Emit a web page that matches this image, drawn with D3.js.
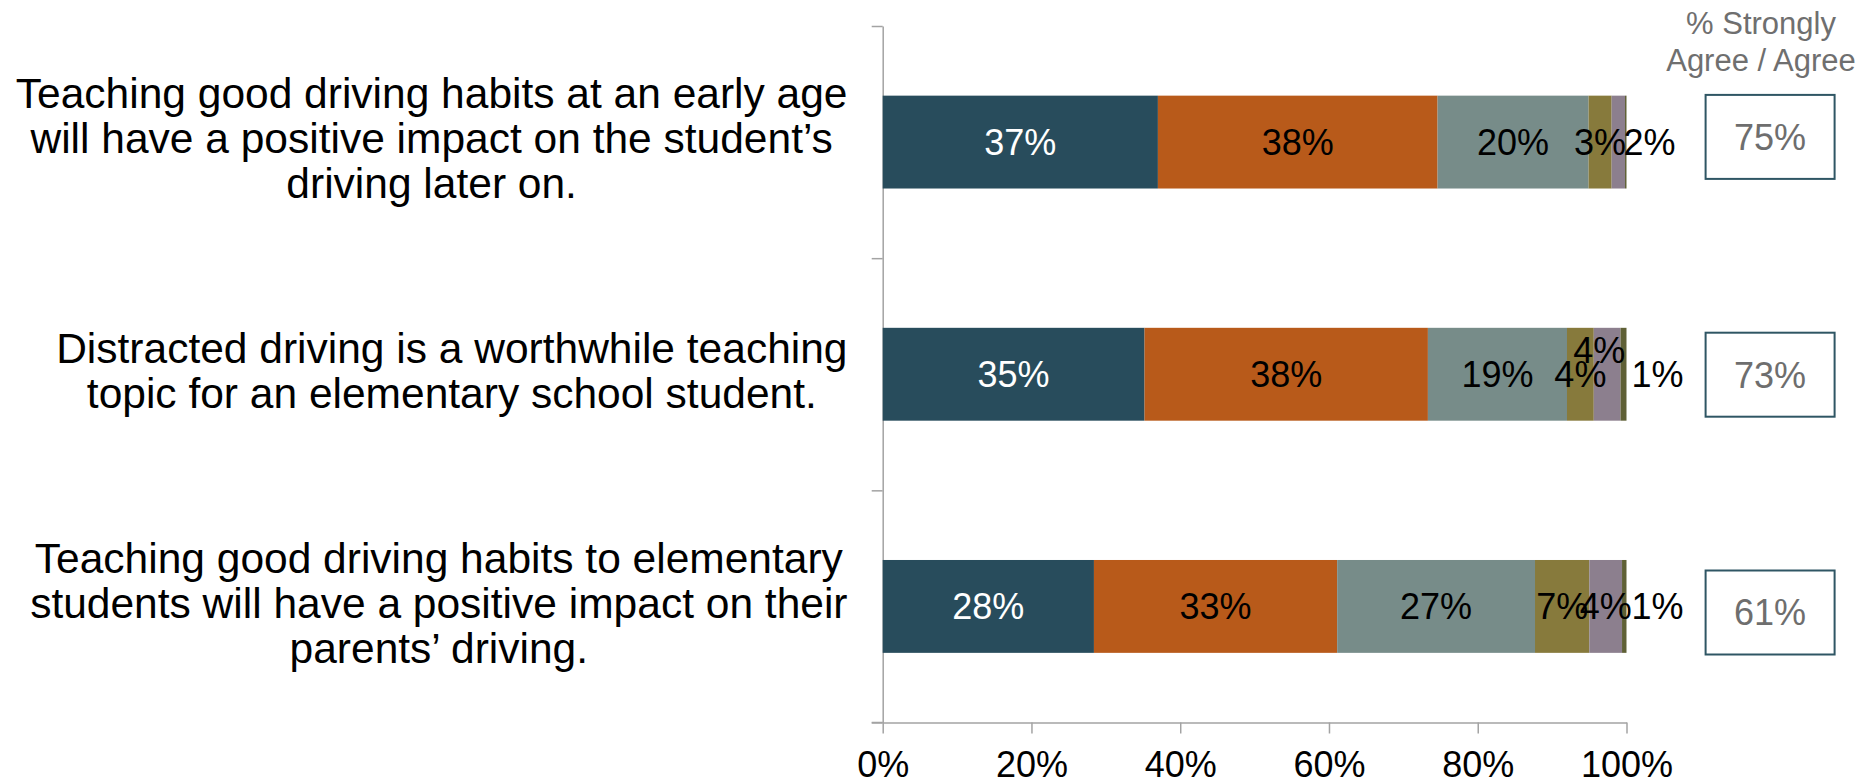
<!DOCTYPE html>
<html>
<head>
<meta charset="utf-8">
<script src="https://cdn.jsdelivr.net/npm/d3@7"></script>
<style>
  html, body { margin: 0; padding: 0; background: #ffffff; }
  svg { display: block; font-family: "Liberation Sans", Arial, sans-serif; }
</style>
</head>
<body>
<svg id="chart" width="1866" height="784"></svg>
<script>
// ---------------- DATA ----------------
const categories = [
  "Teaching good driving habits at an early age\nwill have a positive impact on the student\u2019s\ndriving later on.",
  "Distracted driving is a worthwhile teaching\ntopic for an elementary school student.",
  "Teaching good driving habits to elementary\nstudents will have a positive impact on their\nparents\u2019 driving."
];
const seriesNames = ["Strongly agree", "Agree", "Neutral", "Disagree", "Strongly disagree", "Don't know"];
const stronglyAgree    = [37.0, 35.2, 28.4];
const agreeVals        = [37.6, 38.1, 32.7];
const neutralVals      = [20.3, 18.7, 26.6];
const disagreeVals     = [3.1, 3.6, 7.3];
const stronglyDisagree = [1.8, 3.6, 4.4];
const dontKnow         = [0.2, 0.8, 0.6];
const agreeTotals      = ["75%", "73%", "61%"];
const xTickValues      = [0, 20, 40, 60, 80, 100];
const xTickLabels      = ["0%", "20%", "40%", "60%", "80%", "100%"];
const headerLines      = ["% Strongly", "Agree / Agree"];

// ---------------- STYLE ----------------
const colors = ["#284C5C", "#B85A1A", "#778C89", "#877A3C", "#8C7F8E", "#5F6036"];
const labelColors = ["#ffffff", "#000000", "#000000", "#000000", "#000000", "#000000"];
const axisColor = "#A3A3A3";
const FONT_CAT = 42.5, FONT_LBL = 36, FONT_TICK = 36, FONT_HEAD = 31, FONT_BOX = 36;
// per-label placement tweaks (row-series): outside = placed right of bar end
const labelTweak = {
  "0-4": { outside: true, dx: -3 },
  "1-4": { dx: -8, dy: -24 },
  "1-5": { outside: true, dx: 5 },
  "2-5": { outside: true, dx: 5 }
};

const svg = d3.select("#chart");

const plotTop = 26, plotBottom = 722.5;
const x = d3.scaleLinear().domain([0, 100]).range([882.7, 1626.5]);
const y = d3.scaleBand().domain(categories).range([plotTop, plotBottom]).paddingInner(0.6).paddingOuter(0.3);
const yBoundary = d3.scaleLinear().domain([0, categories.length]).range([plotTop, plotBottom]);
const boxY = d3.scaleBand().domain(categories).range([18, 731.4]);

const seriesArrays = [stronglyAgree, agreeVals, neutralVals, disagreeVals, stronglyDisagree, dontKnow];
const table = categories.map((c, i) => {
  const row = { category: c };
  seriesNames.forEach((s, k) => row[s] = seriesArrays[k][i]);
  return row;
});
const stack = d3.stack().keys(seriesNames)(table);

// ---------------- AXES ----------------
const leftAxis = d3.axisLeft(yBoundary).tickValues(d3.range(0, categories.length + 1))
  .tickSize(11).tickFormat("").tickSizeOuter(0);
const gl = svg.append("g").attr("transform", `translate(${x(0)},0)`).call(leftAxis);
gl.select(".domain").attr("stroke", axisColor).attr("stroke-width", 1.5);
gl.selectAll(".tick line").attr("stroke", axisColor).attr("stroke-width", 1.5);

const bottomAxis = d3.axisBottom(x).tickValues(xTickValues)
  .tickFormat((d, i) => xTickLabels[i]).tickSize(11).tickSizeOuter(0).tickPadding(12);
const gb = svg.append("g").attr("transform", `translate(0,${plotBottom})`).call(bottomAxis);
gb.select(".domain").attr("stroke", axisColor).attr("stroke-width", 1.5);
gb.selectAll(".tick line").attr("stroke", axisColor).attr("stroke-width", 1.5);
gb.selectAll(".tick text").attr("fill", "#000").attr("font-size", FONT_TICK)
  .attr("font-family", "Liberation Sans, Arial, sans-serif").attr("dy", null).attr("y", 54.5);
// extend bottom axis line to the left tick
svg.append("line").attr("x1", x(0) - 11).attr("x2", x(0)).attr("y1", plotBottom).attr("y2", plotBottom)
  .attr("stroke", axisColor).attr("stroke-width", 1.5);

// ---------------- BARS ----------------
const layers = svg.append("g").selectAll("g").data(stack).join("g")
  .attr("fill", (d, k) => colors[k]);
layers.selectAll("rect").data(d => d).join("rect")
  .attr("x", d => x(d[0]))
  .attr("y", d => y(d.data.category))
  .attr("width", d => Math.max(0, x(d[1]) - x(d[0])))
  .attr("height", y.bandwidth());

// ---------------- BAR LABELS ----------------
const lblG = svg.append("g").attr("font-size", FONT_LBL);
stack.forEach((layer, k) => {
  layer.forEach((d, i) => {
    const v = d[1] - d[0];
    if (Math.round(v) < 1) return;
    const tw = labelTweak[i + "-" + k] || {};
    const cy = y(d.data.category) + y.bandwidth() / 2 + FONT_LBL * 0.358 + (tw.dy || 0);
    const t = lblG.append("text").attr("y", cy).attr("fill", labelColors[k]).text(Math.round(v) + "%");
    if (tw.outside) {
      t.attr("x", x(100) + (tw.dx || 0)).attr("text-anchor", "start");
    } else {
      t.attr("x", (x(d[0]) + x(d[1])) / 2 + (tw.dx || 0)).attr("text-anchor", "middle");
    }
  });
});

// ---------------- CATEGORY LABELS ----------------
const catRight = 847.5, lineH = 45;
const catG = svg.append("g").attr("font-size", FONT_CAT).attr("fill", "#000");
categories.forEach((c, i) => {
  const lines = c.split("\n");
  const widths = lines.map(l => {
    const t = catG.append("text").text(l);
    const w = t.node().getComputedTextLength();
    t.remove();
    return w;
  });
  const maxW = d3.max(widths);
  const cx = catRight - maxW / 2;
  const cyMid = y(c) + y.bandwidth() / 2 - 4;
  const n = lines.length;
  lines.forEach((l, j) => {
    catG.append("text")
      .attr("x", cx).attr("text-anchor", "middle")
      .attr("y", cyMid + (j - (n - 1) / 2) * lineH + FONT_CAT * 0.358)
      .text(l);
  });
});

// ---------------- HEADER ----------------
const headX = 1761;
svg.append("g").attr("font-size", FONT_HEAD).attr("fill", "#6F6F6F").attr("text-anchor", "middle")
  .selectAll("text").data(headerLines).join("text")
  .attr("x", headX).attr("y", (d, j) => 34 + j * 37).text(d => d);

// ---------------- TOTAL BOXES ----------------
const boxW = 129, boxH = 84, boxX = 1705.6;
const boxG = svg.append("g");
categories.forEach((c, i) => {
  const cy = boxY(c) + boxY.bandwidth() / 2;
  boxG.append("rect").attr("x", boxX).attr("y", cy - boxH / 2).attr("width", boxW).attr("height", boxH)
    .attr("fill", "#fff").attr("stroke", "#2F5664").attr("stroke-width", 2);
  boxG.append("text").attr("x", boxX + boxW / 2).attr("y", cy + FONT_BOX * 0.358)
    .attr("text-anchor", "middle").attr("font-size", FONT_BOX).attr("fill", "#6E6E6E")
    .text(agreeTotals[i]);
});
</script>
</body>
</html>
